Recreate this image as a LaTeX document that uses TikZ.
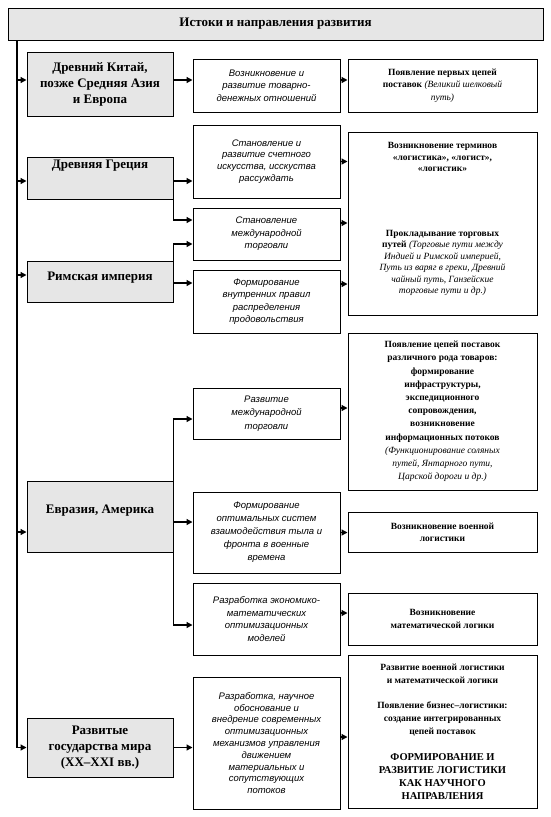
\documentclass[tikz,border=0pt]{standalone}
\usepackage{fontspec}
\setmainfont{Liberation Serif}
\newfontfamily\arialfont{Liberation Sans}
\usetikzlibrary{arrows.meta, positioning}
\definecolor{boxgray}{RGB}{230, 230, 230}
\newcommand{\remark}[1]{{\mdseries\itshape #1}}
\newcommand{\bigcaps}[1]{{\fontsize{10.5}{13.3}\selectfont #1}}
\tikzset{
  gbox/.style={draw, fill=boxgray, line width=1pt, minimum width=146pt, inner sep=2pt, align=center,
    font=\fontsize{13}{16}\selectfont\bfseries},
  mbox/.style={draw, line width=1pt, minimum width=147pt, inner sep=2pt, align=center,
    font=\arialfont\fontsize{9.5}{12.5}\selectfont\itshape},
  rbox/.style={draw, line width=1pt, minimum width=189pt, inner sep=2pt, align=center,
    font=\fontsize{9.5}{12.3}\selectfont\bfseries},
  rtext/.style={align=center, inner sep=0pt, font=\fontsize{9.5}{11.5}\selectfont\bfseries},
  arr/.style={line width=1.3pt, -{Triangle[length=6pt,width=6pt]}}
}

\begin{document}
\begin{tikzpicture}[x=1pt, y=-1pt]
\useasboundingbox (0,0) rectangle (551,817);

% heading
\node[draw, fill=boxgray, line width=1pt, minimum width=535pt, minimum height=32pt,
  font=\fontsize{13}{15}\selectfont\bfseries] (title) at (275.5,24) {Истоки и направления развития};
\coordinate (spine) at (17,748);

% regions
\node[gbox, minimum height=64pt] (china) at (100,84) {Древний Китай,\\позже Средняя Азия\\и Европа};
\node[gbox, minimum height=40pt, text height=9pt, text depth=29pt] (greece) at (100,178) {Древняя Греция};
\node[gbox, minimum height=41pt, text height=9pt, text depth=11pt] (rome) at (100,281.5) {Римская империя};
\node[gbox, minimum height=71pt, text height=9pt, text depth=15pt] (eurasia) at (100,516.5) {Евразия, Америка};
\node[gbox, minimum height=59pt] (developed) at (100,747.5) {Развитые\\государства мира\\(XX--XXI вв.)};

% processes
\node[mbox, minimum height=53pt] (money) at (266.5,85.5) {Возникновение и\\развитие товарно-\\денежных отношений};
\node[mbox, minimum height=73pt, font=\arialfont\fontsize{9.5}{11.7}\selectfont\itshape] (counting) at (266.5,161.5) {Становление и\\развитие счетного\\искусства, исскуства\\рассуждать};
\node[mbox, minimum height=52pt] (trade) at (266.5,234) {Становление\\международной\\торговли};
\node[mbox, minimum height=63pt] (rules) at (266.5,301.5) {Формирование\\внутренних правил\\распределения\\продовольствия};
\node[mbox, minimum height=51pt, font=\arialfont\fontsize{9.5}{13.3}\selectfont\itshape] (worldtrade) at (266.5,413.5) {Развитие\\международной\\торговли};
\node[mbox, minimum height=81pt, font=\arialfont\fontsize{9.5}{13}\selectfont\itshape] (front) at (266.5,532.5) {Формирование\\оптимальных систем\\взаимодействия тыла и\\фронта в военные\\времена};
\node[mbox, minimum height=72pt, font=\arialfont\fontsize{9.5}{12.8}\selectfont\itshape] (models) at (266.5,619) {Разработка экономико-\\математических\\оптимизационных\\моделей};
\node[mbox, minimum height=132pt, font=\arialfont\fontsize{9.5}{11.8}\selectfont\itshape] (modern) at (266.5,743) {Разработка, научное\\обоснование и\\внедрение современных\\оптимизационных\\механизмов управления\\движением\\материальных и\\сопутствующих\\потоков};

% results
\node[rbox, minimum height=53pt] (silk) at (442.5,85.5) {Появление первых цепей\\поставок \remark{(Великий шелковый}\\\remark{путь)}};
\node[rbox, minimum height=183pt] (terms) at (442.5,223.5) {};
\node[rtext] (termstop) at (442.5,157) {Возникновение терминов\\«логистика», «логист»,\\«логистик»};
\node[rtext] (termsroutes) at (442.5,263) {Прокладывание торговых\\путей \remark{(Торговые пути между}\\\remark{Индией и Римской империей,}\\\remark{Путь из варяг в греки, Древний}\\\remark{чайный путь, Ганзейские}\\\remark{торговые пути и др.)}};
\node[rbox, minimum height=157pt, font=\fontsize{9.5}{13.2}\selectfont\bfseries] (chains) at (442.5,411.5) {Появление цепей поставок\\различного рода товаров:\\формирование\\инфраструктуры,\\экспедиционного\\сопровождения,\\возникновение\\информационных потоков\\\remark{(Функционирование соляных}\\\remark{путей, Янтарного пути,}\\\remark{Царской дороги и др.)}};
\node[rbox, minimum height=40pt] (military) at (442.5,532) {Возникновение военной\\логистики};
\node[rbox, minimum height=52pt] (mathlog) at (442.5,619) {Возникновение\\математической логики};
\node[rbox, minimum height=153pt, font=\fontsize{9.5}{13}\selectfont\bfseries] (science) at (442.5,731.5) {Развитие военной логистики\\и математической логики\\[12pt]Появление бизнес--логистики:\\создание интегрированных\\цепей поставок\\[13pt]\bigcaps{ФОРМИРОВАНИЕ И}\\\bigcaps{РАЗВИТИЕ ЛОГИСТИКИ}\\\bigcaps{КАК НАУЧНОГО}\\\bigcaps{НАПРАВЛЕНИЯ}};

% spine
\draw[line width=1.3pt] (title.south -| spine) -- (spine);
\draw[arr] ([yshift=4pt]china.west -| spine) -- ([yshift=4pt]china.west);
\draw[arr] ([yshift=-3pt]greece.west -| spine) -- ([yshift=-3pt]greece.west);
\draw[arr] ([yshift=6.5pt]rome.west -| spine) -- ([yshift=6.5pt]rome.west);
\draw[arr] ([yshift=-15.5pt]eurasia.west -| spine) -- ([yshift=-15.5pt]eurasia.west);
\draw[arr] (developed.west -| spine) -- (developed.west);

% regions to processes
\draw[arr] ([yshift=4pt]china.east) -- ([yshift=4pt]china.east -| money.west);
\draw[arr] ([yshift=-3pt]greece.east) -- ([yshift=-3pt]greece.east -| counting.west);
\draw[arr] (greece.south east) |- ([yshift=14pt]trade.west);
\draw[arr] (rome.north east) |- ([yshift=-10pt]trade.west);
\draw[arr] ([yshift=-1.5pt]rome.east) -- ([yshift=-1.5pt]rome.east -| rules.west);
\draw[arr] (eurasia.north east) |- ([yshift=-5.5pt]worldtrade.west);
\draw[arr] ([yshift=-5.5pt]eurasia.east) -- ([yshift=-5.5pt]eurasia.east -| front.west);
\draw[arr] (eurasia.south east) |- ([yshift=-6pt]models.west);
\draw[arr] (developed.east) -- (developed.east -| modern.west);

% processes to results
\draw[arr] ([yshift=5.5pt]money.east) -- ([yshift=5.5pt]money.east -| silk.west);
\draw[arr] (counting.east) -- (counting.east -| terms.west);
\draw[arr] ([yshift=11pt]trade.east) -- ([yshift=11pt]trade.east -| terms.west);
\draw[arr] ([yshift=17.5pt]rules.east) -- ([yshift=17.5pt]rules.east -| terms.west);
\draw[arr] ([yshift=5.5pt]worldtrade.east) -- ([yshift=5.5pt]worldtrade.east -| chains.west);
\draw[arr] (front.east) -- (front.east -| military.west);
\draw[arr] ([yshift=6pt]models.east) -- ([yshift=6pt]models.east -| mathlog.west);
\draw[arr] ([yshift=6pt]modern.east) -- ([yshift=6pt]modern.east -| science.west);
\end{tikzpicture}
\end{document}
